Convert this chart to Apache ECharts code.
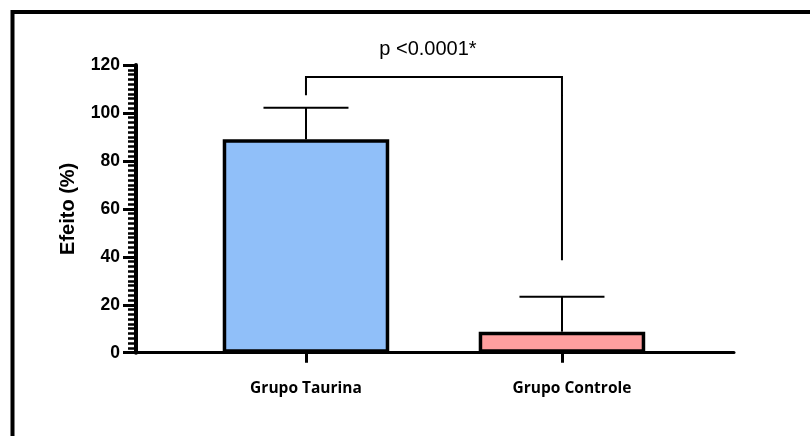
<!DOCTYPE html>
<html><head><meta charset="utf-8">
<script src="https://cdn.jsdelivr.net/npm/echarts@6/dist/echarts.min.js"></script>
<style>html,body{margin:0;padding:0;background:#fff}#c{width:810px;height:436px}</style>
</head><body><div id="c"></div>
<script>
const categories = ['Grupo Taurina', 'Grupo Controle'];
const means = [89, 8.75];
const errorsUp = [13.2, 14.6];
const barColors = ['#90BFF9', '#FF9F9F'];
const yTicks = [0, 20, 40, 60, 80, 100, 120];
const bracketX = [0, 1];
const bracketY = [107.4, 115, 38.6]; // left leg bottom, top, right leg bottom
const pLabel = 'p <0.0001*';

const chart = echarts.init(document.getElementById('c'), null, {renderer: 'canvas'});

const option = {
  animation: false,
  backgroundColor: '#fff',
  graphic: [{
    type: 'rect', silent: true,
    shape: {x: 12.5, y: 12, width: 900, height: 600},
    style: {fill: 'none', stroke: '#000', lineWidth: 4}
  }],
  grid: {left: 136, right: 76, top: 65, bottom: 83.3},
  xAxis: {
    type: 'value', min: -0.664, max: 1.672,
    splitLine: {show: false},
    axisLine: {onZero: true, lineStyle: {color: '#000', width: 3}},
    axisTick: {show: true, customValues: [0, 1], length: 10, lineStyle: {color: '#000', width: 3}},
    axisLabel: {
      customValues: [0, 1], margin: 28,
      formatter: v => (Math.round(v) === 1 ? '{s|' : '{t|') + categories[Math.round(v)] + '}',
      rich: {
        t: {fontFamily: 'Open Sans', fontWeight: 'bold', fontSize: 15.5, color: '#000'},
        s: {fontFamily: 'Open Sans', fontWeight: 'bold', fontSize: 15.5, color: '#000', padding: [0, 0, 0, 20]}
      }
    }
  },
  yAxis: {
    type: 'value', min: yTicks[0], max: yTicks[yTicks.length - 1], interval: yTicks[1] - yTicks[0],
    name: 'Efeito (%)', nameLocation: 'middle', nameGap: 58, nameRotate: 90,
    nameTextStyle: {fontFamily: 'Liberation Sans', fontWeight: 'bold', fontSize: 20, color: '#000'},
    splitLine: {show: false},
    axisLine: {show: true, onZero: false, lineStyle: {color: '#000', width: 4}},
    axisTick: {show: true, length: 13, lineStyle: {color: '#000', width: 3}},
    minorTick: {show: true, splitNumber: 10, length: 8, lineStyle: {color: '#000', width: 2.5}},
    axisLabel: {margin: 16, fontFamily: 'Liberation Sans', fontWeight: 'bold', fontSize: 17.5, color: '#000'}
  },
  series: [
    {
      type: 'bar', barWidth: 166.5, z: 2,
      data: means.map((m, i) => ({value: [i, m], itemStyle: {color: barColors[i]}})),
      itemStyle: {borderColor: '#000', borderWidth: 3.5}
    },
    {
      type: 'custom', z: 3,
      data: means.map((m, i) => [i, m, m + errorsUp[i]]),
      renderItem: function (params, api) {
        const x = api.value(0);
        const lo = api.coord([x, api.value(1)]);
        const hi = api.coord([x, api.value(2)]);
        const half = 42.5;
        return {type: 'group', children: [
          {type: 'line', shape: {x1: lo[0], y1: lo[1], x2: hi[0], y2: hi[1]}, style: {stroke: '#000', lineWidth: 2}},
          {type: 'line', shape: {x1: hi[0] - half, y1: hi[1], x2: hi[0] + half, y2: hi[1]}, style: {stroke: '#000', lineWidth: 2}}
        ]};
      }
    },
    {
      type: 'custom', z: 3, clip: false,
      data: [[bracketX[0], bracketX[1], bracketY[0], bracketY[1], bracketY[2]]],
      renderItem: function (params, api) {
        const a = api.coord([api.value(0), api.value(2)]);
        const b = api.coord([api.value(0), api.value(3)]);
        const c = api.coord([api.value(1), api.value(3)]);
        const d = api.coord([api.value(1), api.value(4)]);
        return {type: 'group', children: [
          {type: 'polyline', shape: {points: [a, b, c, d]}, style: {stroke: '#000', lineWidth: 2, fill: null}},
          {type: 'text', x: (b[0] + c[0]) / 2 - 6, y: b[1] - 27.5,
           style: {text: pLabel, fontFamily: 'Liberation Sans', fontSize: 20, fill: '#000', align: 'center', verticalAlign: 'middle'}}
        ]};
      }
    }
  ]
};
chart.setOption(option);
</script>
</body></html>
